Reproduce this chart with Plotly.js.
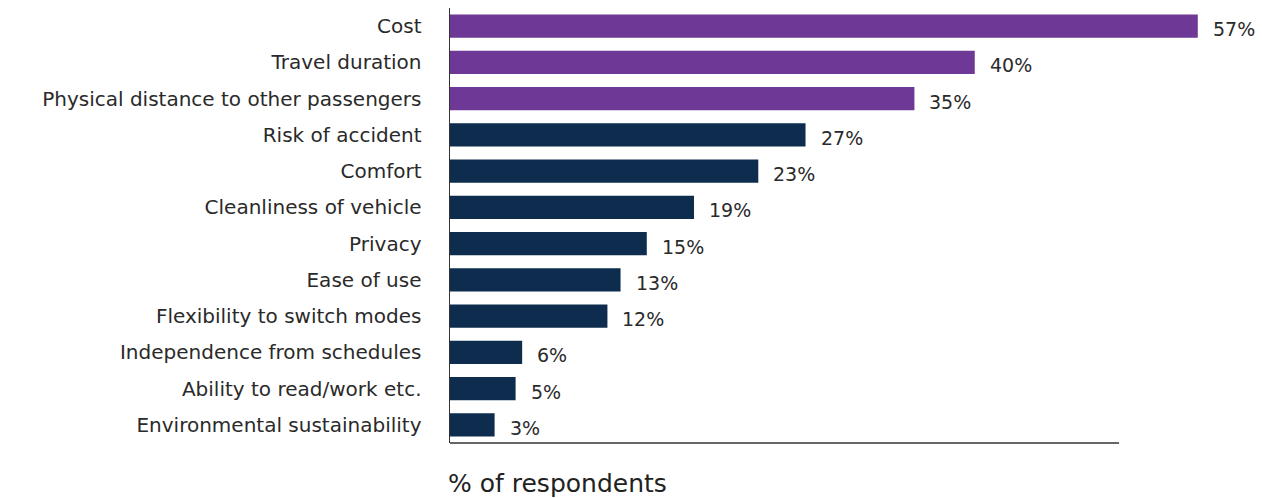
<!DOCTYPE html>
<html>
<head>
<meta charset="utf-8">
<script src="https://cdn.plot.ly/plotly-3.0.1.min.js"></script>
<style>html,body{margin:0;padding:0;background:#fff;}#chart{width:1262px;height:498px;}</style>
</head>
<body>
<div id="chart"></div>
<script>
const categories = [
  "Cost", "Travel duration", "Physical distance to other passengers",
  "Risk of accident", "Comfort", "Cleanliness of vehicle", "Privacy",
  "Ease of use", "Flexibility to switch modes", "Independence from schedules",
  "Ability to read/work etc.", "Environmental sustainability"
];
const values = [57, 40, 35.4, 27.1, 23.5, 18.6, 15, 13, 12, 5.5, 5, 3.4];
const valueLabels = ["57%", "40%", "35%", "27%", "23%", "19%", "15%", "13%", "12%", "6%", "5%", "3%"];
const highlighted = [true, true, true, false, false, false, false, false, false, false, false, false];
const axisLineEnd = 51;

const purple = "#6E3996";
const navy = "#0E2D4E";
const font = "DejaVu Sans, Liberation Sans, sans-serif";

const trace = {
  type: "bar",
  orientation: "h",
  y: categories,
  x: values,
  marker: { color: highlighted.map(h => h ? purple : navy), line: { width: 0 } },
  hoverinfo: "none"
};

const annotations = categories.map((c, i) => ({
  x: values[i], y: c, xref: "x", yref: "y",
  text: valueLabels[i], showarrow: false,
  xanchor: "left", yanchor: "middle", xshift: 13, yshift: -3,
  font: { family: font, size: 19, color: "#2a2a2a" }
}));
annotations.push({
  x: 0, y: -0.092, xref: "paper", yref: "paper",
  text: "% of respondents", showarrow: false,
  xanchor: "left", yanchor: "middle", xshift: -4,
  font: { family: font, size: 25, color: "#222" }
});

const layout = {
  width: 1262, height: 498,
  margin: { l: 450, r: 20, t: 8, b: 55 },
  paper_bgcolor: "#fff", plot_bgcolor: "#fff",
  showlegend: false,
  bargap: 0.365,
  xaxis: { range: [0, 60.37], showgrid: false, zeroline: false, showticklabels: false, showline: false, fixedrange: true },
  yaxis: {
    autorange: "reversed", showgrid: false, zeroline: false,
    showline: true, linecolor: "#333", linewidth: 1.5,
    ticks: "", ticklabelstandoff: 23,
    tickfont: { family: font, size: 20, color: "#2a2a2a" }
  },
  shapes: [{
    type: "line", xref: "x", yref: "paper", x0: 0, x1: axisLineEnd, y0: 0, y1: 0,
    line: { color: "#333", width: 1.5 }
  }],
  annotations: annotations
};

Plotly.newPlot("chart", [trace], layout, { displayModeBar: false, staticPlot: true });
</script>
</body>
</html>
